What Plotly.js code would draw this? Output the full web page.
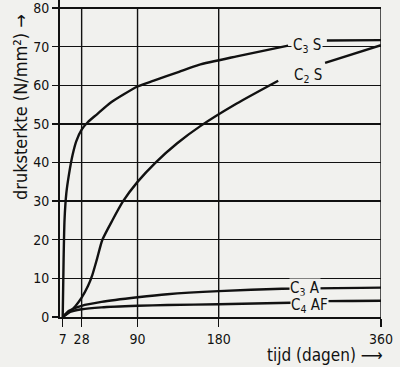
<!DOCTYPE html>
<html>
<head>
<meta charset="utf-8">
<script src="https://cdn.plot.ly/plotly-3.0.1.min.js"></script>
<style>html,body{margin:0;padding:0;background:#f1f1ee;}#chart{width:400px;height:367px;}</style>
</head>
<body>
<div id="chart"></div>
<script>
// Time in days
const daysC3S = [7, 8, 9, 11, 14, 18, 22, 28, 35, 45, 60, 90, 108, 136, 158, 200, 257];
const valC3S  = [0, 15, 25, 32, 37, 42, 45.5, 48.5, 50.5, 52.5, 55.5, 59.7, 61.2, 63.5, 65.3, 67.5, 70.3];
const daysC3S_b = [300, 360];
const valC3S_b  = [71.6, 71.7];

const daysC2S = [7, 14, 21, 28, 35, 40, 45, 51, 62, 74, 90, 110, 134, 160, 200, 246];
const valC2S  = [0, 1.2, 2.8, 5, 8, 11, 15, 20, 25, 30, 35, 40, 45, 49.5, 55.3, 61.2];
const daysC2S_b = [298, 360];
const valC2S_b  = [65.8, 70.4];

const daysC3A = [7, 14, 28, 50, 90, 123, 180, 250, 360];
const valC3A  = [0, 1.6, 2.9, 3.9, 5.1, 5.9, 6.7, 7.3, 7.6];

const daysC4AF = [7, 14, 28, 50, 90, 123, 180, 260, 300, 360];
const valC4AF  = [0, 1.2, 2.0, 2.5, 2.9, 3.1, 3.3, 3.7, 4.1, 4.2];

const xTicks = [7, 28, 90, 180, 360];
const xGrid = [28, 90, 180, 360];
const yTicks = [0, 10, 20, 30, 40, 50, 60, 70, 80];

const bg = '#f1f1ee';
const FONT = '"Liberation Sans Narrow", "DejaVu Sans Condensed", "Liberation Sans", sans-serif';
const line = {color: '#111', width: 2.4, shape: 'spline', smoothing: 0.6};

const traces = [
  {x: daysC3S, y: valC3S, mode: 'lines', line: line},
  {x: daysC3S_b, y: valC3S_b, mode: 'lines', line: line},
  {x: daysC2S, y: valC2S, mode: 'lines', line: line},
  {x: daysC2S_b, y: valC2S_b, mode: 'lines', line: line},
  {x: daysC3A, y: valC3A, mode: 'lines', line: line},
  {x: daysC4AF, y: valC4AF, mode: 'lines', line: line}
];

const pw = 400 - 60 - 19, ph = 367 - 0 - 50;
const px = v => (v - 60) / pw;
const py = v => (317 - v) / ph;

const labelFont = {family: FONT, size: 15, color: '#111'};
const gridLine = {color: '#111', width: 1.4};
const shapes = xGrid.map(d => ({type: 'line', xref: 'x', yref: 'y', x0: d, x1: d, y0: 0, y1: 80,
                                line: gridLine, layer: 'below'}));
shapes.push({type: 'line', xref: 'paper', yref: 'y', x0: 0, x1: 1, y0: 80, y1: 80, line: gridLine, layer: 'below'});

const layout = {
  width: 400, height: 367,
  margin: {l: 60, r: 19, t: 0, b: 50},
  paper_bgcolor: bg, plot_bgcolor: bg,
  showlegend: false,
  font: {family: FONT, color: '#111'},
  xaxis: {
    range: [4, 360], tickmode: 'array', tickvals: xTicks, ticktext: xTicks.map(String),
    showgrid: false,
    showline: true, linecolor: '#111', linewidth: 2,
    ticks: 'outside', ticklen: 8, tickwidth: 1.4, tickcolor: '#111',
    tickfont: {family: FONT, size: 14, color: '#111'}, zeroline: false
  },
  yaxis: {
    range: [0, 82.1], tickmode: 'array', tickvals: yTicks,
    showgrid: true, gridcolor: '#111', gridwidth: 1.4,
    showline: true, linecolor: '#111', linewidth: 2,
    ticks: 'outside', ticklen: 6, tickwidth: 1.4, tickcolor: '#111',
    ticklabeloverflow: 'allow',
    tickfont: {family: FONT, size: 14, color: '#111'}, zeroline: false
  },
  shapes: shapes,
  annotations: [
    {x: 278, y: 70.4, xref: 'x', yref: 'y', text: 'C<sub>3</sub> S', showarrow: false, font: labelFont, bgcolor: bg},
    {x: 279, y: 62.5, xref: 'x', yref: 'y', text: 'C<sub>2</sub> S', showarrow: false, font: labelFont},
    {x: 276, y: 7.4, xref: 'x', yref: 'y', text: 'C<sub>3</sub> A', showarrow: false, font: labelFont, bgcolor: bg, borderpad: 0},
    {x: 281, y: 3.0, xref: 'x', yref: 'y', text: 'C<sub>4</sub> AF', showarrow: false, font: labelFont, bgcolor: bg, borderpad: 0},
    {x: px(385), y: py(355), xref: 'paper', yref: 'paper', text: 'tijd (dagen) ⟶', showarrow: false,
     xanchor: 'right', yanchor: 'middle', font: {family: FONT, size: 17, color: '#111'}},
    {x: px(20), y: py(107), xref: 'paper', yref: 'paper', text: 'druksterkte (N/mm²) →', showarrow: false,
     xanchor: 'center', yanchor: 'middle', textangle: -90, font: {family: FONT, size: 18, color: '#111'}}
  ]
};

Plotly.newPlot('chart', traces, layout, {displayModeBar: false, staticPlot: true});
</script>
</body>
</html>
